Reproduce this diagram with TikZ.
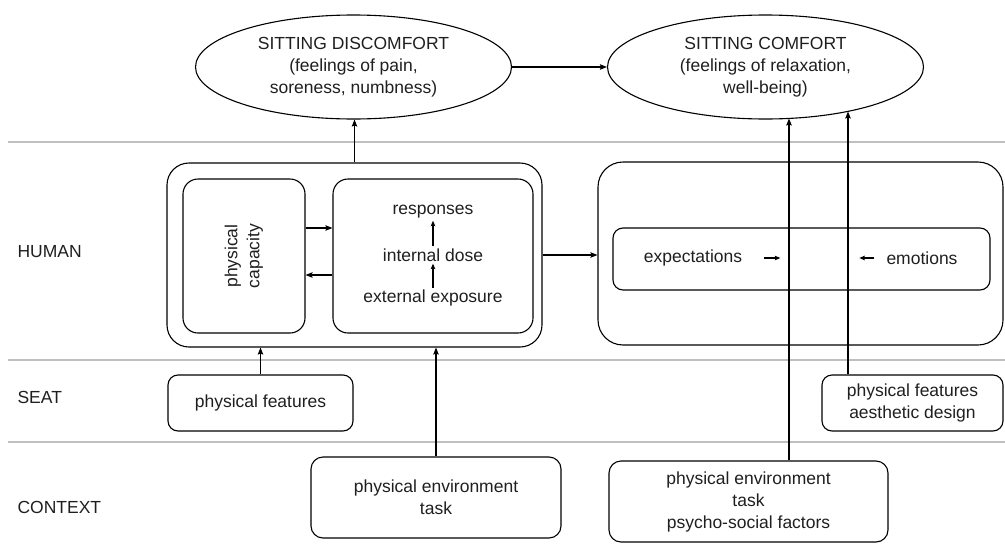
\documentclass[tikz,border=0pt]{standalone}
\usepackage{fontspec}
\setmainfont{Liberation Sans}
\usepackage{graphicx}
\usetikzlibrary{arrows.meta,shapes.geometric}
\begin{document}
\begin{tikzpicture}[x=1pt,y=-1pt,
  every node/.style={font=\fontsize{17.5}{22}\selectfont, text=black!88},
  box/.style={draw, line width=1.1pt, inner sep=0pt, align=center},
  ell/.style={draw, ellipse, line width=1.1pt, inner sep=0pt, minimum width=316pt, minimum height=104pt, align=center},
  arr/.style={-{Stealth[length=7pt,width=5.5pt,inset=1pt]}, line width=1.1pt},
  sarr/.style={-{Stealth[length=5.5pt,width=4.5pt,inset=1pt]}, line width=1.1pt},
  sep/.style={draw=black!25, line width=1.5pt},
  lbl/.style={anchor=west},
  txt/.style={inner sep=2pt}]
\useasboundingbox (0,0) rectangle (1005,552);

% separators
\draw[sep] (8,142) -- (1005,142);
\draw[sep] (8,360) -- (1005,360);
\draw[sep] (8,442) -- (1005,442);

% row labels
\node[lbl] (lhuman) at (14,252) {HUMAN};
\node[lbl] (lseat) at (14,397) {SEAT};
\node[lbl] (lcontext) at (14,507) {CONTEXT};

% ellipses
\node[ell] (disc) at (353.5,67) {SITTING DISCOMFORT\\(feelings of pain,\\soreness, numbness)};
\node[ell] (comf) at (765.5,67) {SITTING COMFORT\\(feelings of relaxation,\\well-being)};

% human physical
\node[box, rounded corners=22pt, minimum width=375pt, minimum height=184pt] (human) at (354.5,255) {};
\node[box, rounded corners=15pt, minimum width=122pt, minimum height=154pt] (pc) at (244,256)
  {\rotatebox{90}{\begin{tabular}{@{}c@{}}physical\\capacity\end{tabular}}};
\node[box, rounded corners=15pt, minimum width=200pt, minimum height=154pt] (resp) at (433,256) {};
\node[txt] (tresp) at (433,212) {responses};
\node[txt] (tint) at (433,255) {internal dose};
\node[txt] (text) at (433,298) {external exposure};
\draw[sarr] (text.north) -- (tint.south);
\draw[sarr] (tint.north) -- (tresp.south);
\draw[arr] ([yshift=28pt]pc.east) -- ([yshift=28pt]resp.west);
\draw[arr] ([yshift=-19pt]resp.west) -- ([yshift=-19pt]pc.east);

% human psychological
\node[box, rounded corners=25pt, minimum width=405pt, minimum height=183pt] (right) at (800.5,253.5) {};
\node[box, rounded corners=10pt, minimum width=377pt, minimum height=62pt] (inner) at (801.5,259) {};
\node[txt] (expe) at (693,258) {expectations};
\node[txt] (emot) at (922,258) {emotions};
\draw[sarr] ([xshift=20pt]expe.east) -- ([xshift=36pt]expe.east);
\draw[sarr] ([xshift=-10pt]emot.west) -- ([xshift=-25pt]emot.west);

% seat
\node[box, rounded corners=10pt, minimum width=185pt, minimum height=56pt] (seat1) at (260.5,403) {physical features};
\node[box, rounded corners=10pt, minimum width=181pt, minimum height=56pt] (seat2) at (912.5,403) {physical features\\aesthetic design};

% context
\node[box, rounded corners=12pt, minimum width=250pt, minimum height=81pt] (ctx1) at (436,497.5) {physical environment\\task};
\node[box, rounded corners=12pt, minimum width=279pt, minimum height=81pt] (ctx2) at (748.5,501.5) {physical environment\\task\\psycho-social factors};

% connectors
\draw[arr] (disc.east) -- (comf.west);
\draw[arr] (human.north) -- (human.north |- disc.south);
\draw[arr] (human.east) -- (right.west |- human.east);
\draw[arr] (seat1.north) -- (seat1.north |- human.south);
\draw[arr] (ctx1.north) -- (ctx1.north |- human.south);
\coordinate (t1) at (789,118.5);
\coordinate (t2) at (848,111.5);
\draw[arr] (t1 |- ctx2.north) -- (t1);
\draw[arr] (t2 |- seat2.north) -- (t2);
\end{tikzpicture}
\end{document}
